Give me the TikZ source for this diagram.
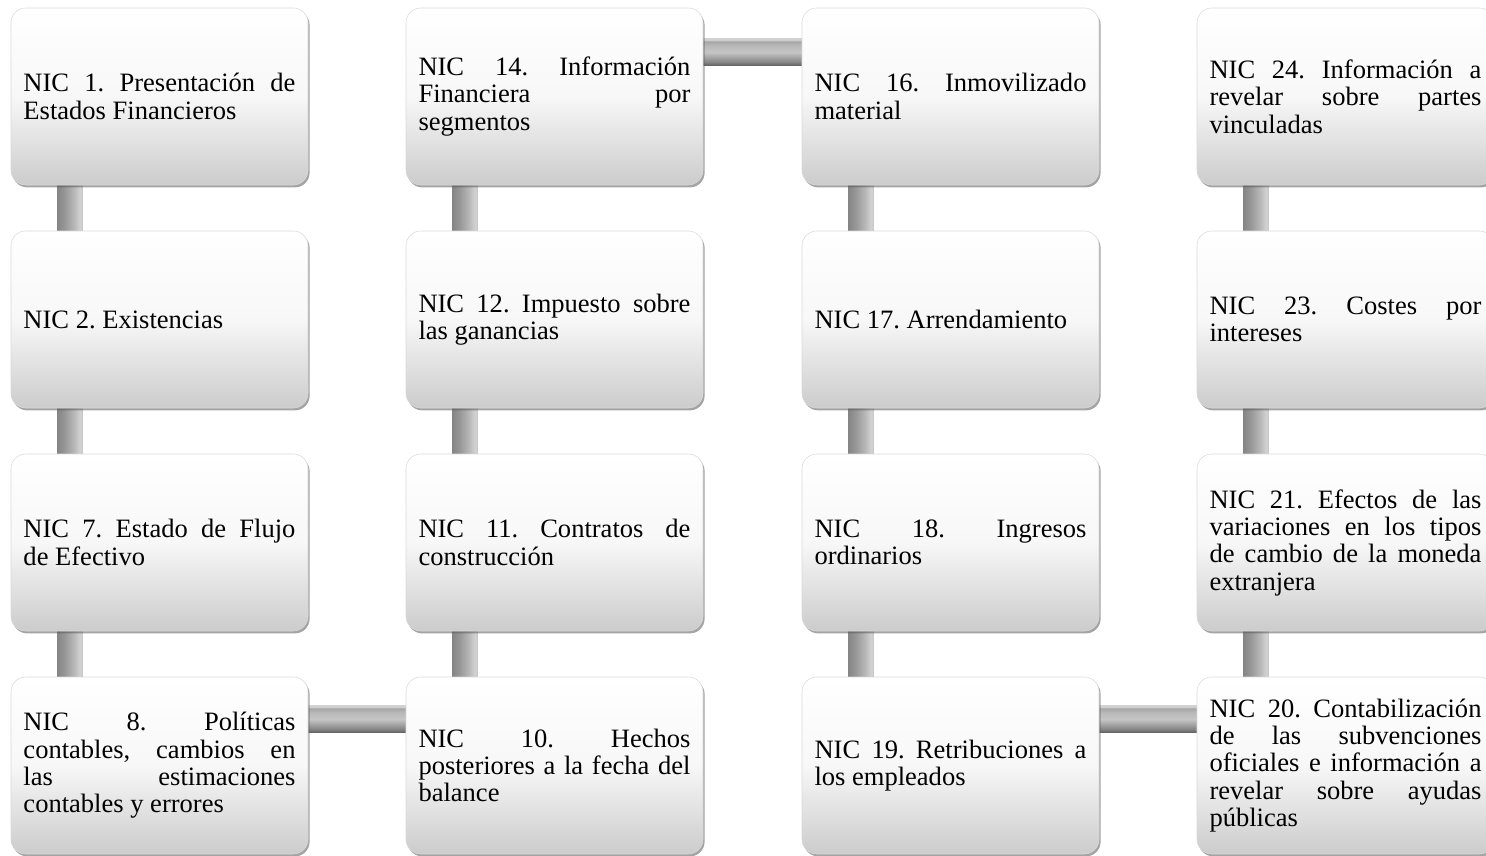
\documentclass[tikz,border=0pt]{standalone}
\usepackage{fontspec}
\setmainfont{Liberation Serif}
\usetikzlibrary{calc,shadows}

% bar shadings: stops between 25bp and 75bp fill the bar
\pgfdeclarehorizontalshading{vbarshade}{100bp}{%
  color(0bp)=(gray!95);color(25bp)=(gray!95);color(40bp)=(gray!80);
  color(58bp)=(gray!55);color(70bp)=(gray!35);color(75bp)=(gray!45);color(100bp)=(gray!45)}
\pgfdeclareverticalshading{hbarshade}{100bp}{%
  color(0bp)=(gray!75!black);color(25bp)=(gray!75!black);color(32bp)=(gray!95);
  color(50bp)=(gray!45);color(62bp)=(gray!55);color(70bp)=(gray!70);
  color(73bp)=(gray!35);color(75bp)=(gray!35);color(100bp)=(gray!35)}

\pgfdeclarelayer{bars}
\pgfsetlayers{bars,main}

\begin{document}
\begin{tikzpicture}[x=0.75pt,y=-0.75pt,
  nicbox/.style={rectangle, rounded corners=11pt,
    minimum width=222.75pt, minimum height=132.75pt,
    text width=204pt, inner xsep=9.375pt, inner ysep=0pt, align=justify,
    draw=gray!30, line width=0.4pt,
    top color=white, bottom color=gray!40, middle color=gray!6,
    drop shadow={shadow xshift=1.2pt, shadow yshift=-1.8pt, opacity=0.55, fill=gray!70!black},
    font=\fontsize{19.9pt}{20.5pt}\selectfont,
    execute at begin node={\frenchspacing\parindent=0pt\hyphenpenalty=10000\exhyphenpenalty=10000\emergencystretch=10pt}},
  vbar/.style={shading=vbarshade},
  hbar/.style={shading=hbarshade}]

\clip (0,0) rectangle (1486,856);
\useasboundingbox (0,0) rectangle (1486,856);

% column 1
\node[nicbox] (n1)  at (159.5,96.5)  {NIC 1. Presentación de\linebreak Estados Financieros};
\node[nicbox] (n2)  at (159.5,319.5) {NIC 2. Existencias};
\node[nicbox] (n7)  at (159.5,542.5) {NIC 7. Estado de Flujo\linebreak de Efectivo};
\node[nicbox] (n8)  at (159.5,765.5) {NIC 8. Políticas\linebreak contables, cambios en\linebreak las estimaciones\linebreak contables y errores};
% column 2
\node[nicbox] (n10) at (554.5,765.5) {NIC 10. Hechos\linebreak posteriores a la fecha del\linebreak balance};
\node[nicbox] (n11) at (554.5,542.5) {NIC 11. Contratos de\linebreak construcción};
\node[nicbox] (n12) at (554.5,319.5) {NIC 12. Impuesto sobre\linebreak las ganancias};
\node[nicbox] (n14) at (554.5,96.5)  {NIC 14. Información\linebreak Financiera por\linebreak segmentos};
% column 3
\node[nicbox] (n16) at (950.5,96.5)  {NIC 16. Inmovilizado\linebreak material};
\node[nicbox] (n17) at (950.5,319.5) {NIC 17. Arrendamiento};
\node[nicbox] (n18) at (950.5,542.5) {NIC 18. Ingresos\linebreak ordinarios};
\node[nicbox] (n19) at (950.5,765.5) {NIC 19. Retribuciones a\linebreak los empleados};
% column 4
\node[nicbox] (n20) at (1345.5,765.5) {NIC 20. Contabilización\linebreak de las subvenciones\linebreak oficiales e información a\linebreak revelar sobre ayudas\linebreak públicas};
\node[nicbox] (n21) at (1345.5,542.5) {NIC 21. Efectos de las\linebreak variaciones en los tipos\linebreak de cambio de la moneda\linebreak extranjera};
\node[nicbox] (n23) at (1345.5,319.5) {NIC 23. Costes por\linebreak intereses};
\node[nicbox] (n24) at (1345.5,96.5)  {NIC 24. Información a\linebreak revelar sobre partes\linebreak vinculadas};

\begin{pgfonlayer}{bars}
  % vertical links (going down a column)
  \foreach \a/\b in {n1/n2,n2/n7,n7/n8}
    \path[vbar] ($(\a.south west)+(47,-6)$) rectangle ($(\b.north west)+(72,6)$);
  \foreach \a/\b in {n14/n12,n12/n11,n11/n10, n16/n17,n17/n18,n18/n19, n24/n23,n23/n21,n21/n20}
    \path[vbar] ($(\a.south west)+(47,-6)$) rectangle ($(\b.north west)+(72,6)$);
  % horizontal links
  \path[hbar] ($(n8.north east)+(-6,29)$)  rectangle ($(n10.north west)+(6,56)$);
  \path[hbar] ($(n14.north east)+(-6,31)$) rectangle ($(n16.north west)+(6,58)$);
  \path[hbar] ($(n19.north east)+(-6,29)$) rectangle ($(n20.north west)+(6,56)$);
\end{pgfonlayer}
\end{tikzpicture}
\end{document}
